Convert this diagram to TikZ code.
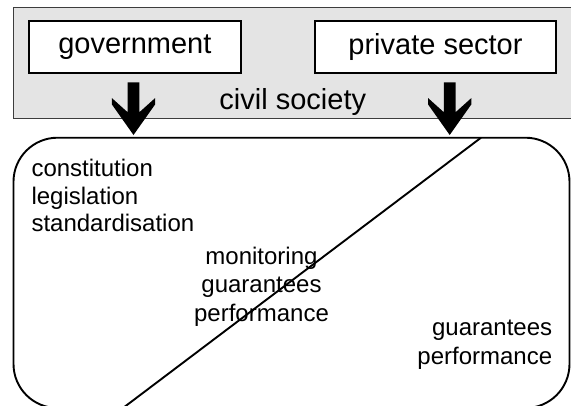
\documentclass[tikz,border=0pt]{standalone}
\usepackage{fontspec}
\setmainfont{Liberation Sans}
\definecolor{civgray}{RGB}{228,228,228}
\definecolor{edgegray}{RGB}{60,60,60}
\begin{document}
\begin{tikzpicture}[x=1pt,y=-1pt,
  actor/.style={draw=black, line width=1.9pt, fill=white, minimum height=52.6pt, inner sep=0pt, font=\fontsize{29}{34}\selectfont},
  bigtext/.style={inner sep=0pt, font=\fontsize{29}{34}\selectfont},
  lbl/.style={inner sep=0pt, font=\fontsize{24}{28.5}\selectfont},
  outline/.style={line width=1.9pt, draw=black},
  darrow/.pic={\fill[black] (-5.8,0) -- (5.8,0) -- (5.8,30) -- (21.7,15.7) -- (21.7,22) -- (0,52.7) -- (-21.7,22) -- (-21.7,15.7) -- (-5.8,30) -- cycle;}]
\useasboundingbox (0,0) rectangle (571,405);
\clip (0,0) rectangle (571,405);
% civil society band
\draw[fill=civgray, draw=edgegray, line width=1.2pt] (13.3,7.3) rectangle (585,118.5);
\node[actor, minimum width=211.7pt] (gov) at (134.85,47) {government};
\node[actor, minimum width=241pt] (priv) at (435.5,47) {private sector};
\node[bigtext, anchor=base] (civ) at (292.8,109.3) {civil society};
% arrows
\pic at (133.5,82.3) {darrow};
\pic at (449.7,82.3) {darrow};
% lower rounded region
\draw[outline, rounded corners=44pt] (13.5,137.7) rectangle (569.5,408);
\coordinate (dtop) at (481,137.7);
\coordinate (dbot) at (123,408);
\draw[outline] (dtop) -- (dbot);
% labels (base anchor = baseline of the last line)
\node[lbl, anchor=base west, align=left, font=\fontsize{24}{27.5}\selectfont] (gl) at (31.3,231.7) {constitution\\legislation\\standardisation};
\node[lbl, anchor=base, align=center, font=\fontsize{24}{28.8}\selectfont] (ml) at (261.5,321.7) {monitoring\\guarantees\\performance};
\node[lbl, anchor=base east, align=right, font=\fontsize{24}{29}\selectfont] (pl) at (552.4,364) {guarantees\\performance};
\end{tikzpicture}
\end{document}
